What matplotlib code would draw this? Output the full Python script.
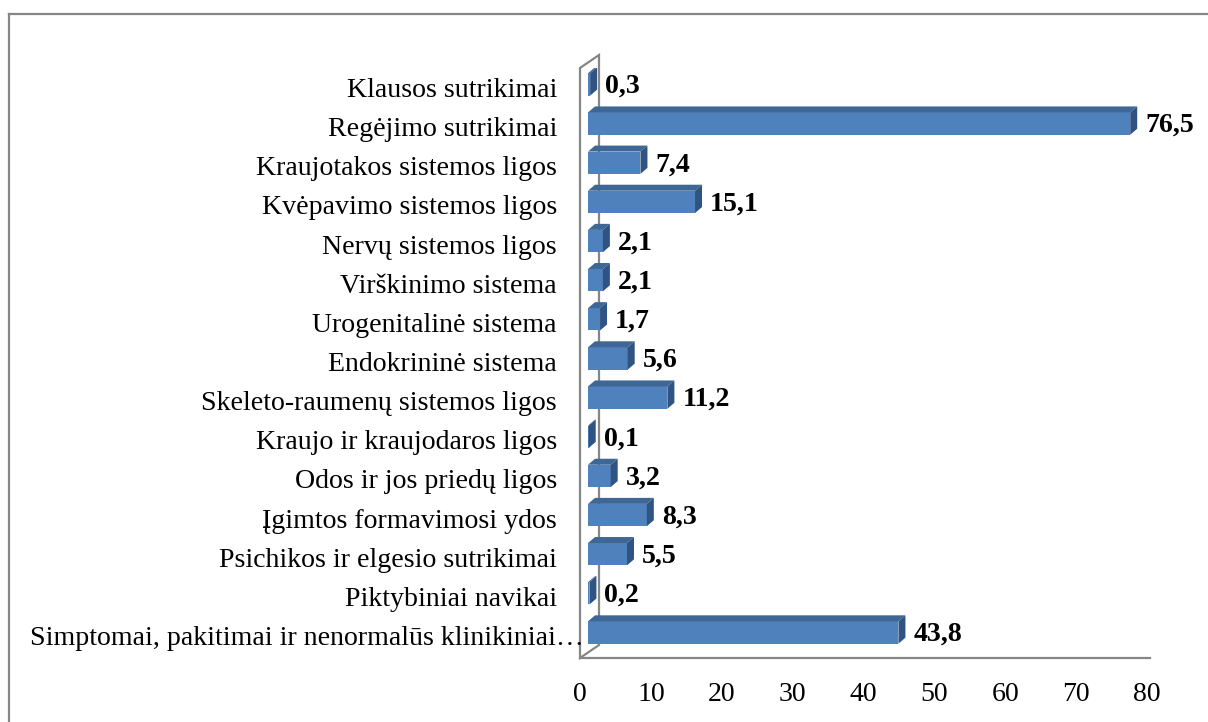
import matplotlib.pyplot as plt
from matplotlib.patches import Polygon
from matplotlib.lines import Line2D
from matplotlib.transforms import ScaledTranslation

plt.rcParams['font.family'] = ['Liberation Serif', 'DejaVu Serif']

# bottom -> top
categories = [
    "Simptomai, pakitimai ir nenormalūs klinikiniai…",
    "Piktybiniai navikai",
    "Psichikos ir elgesio sutrikimai",
    "Įgimtos formavimosi ydos",
    "Odos ir jos priedų ligos",
    "Kraujo ir kraujodaros ligos",
    "Skeleto-raumenų sistemos ligos",
    "Endokrininė sistema",
    "Urogenitalinė sistema",
    "Virškinimo sistema",
    "Nervų sistemos ligos",
    "Kvėpavimo sistemos ligos",
    "Kraujotakos sistemos ligos",
    "Regėjimo sutrikimai",
    "Klausos sutrikimai",
]
values = [43.8, 0.2, 5.5, 8.3, 3.2, 0.1, 11.2, 5.6, 1.7, 2.1, 2.1, 15.1, 7.4, 76.5, 0.3]
xticks = [0, 10, 20, 30, 40, 50, 60, 70, 80]

FRONT = "#4f81bd"
TOP = "#3f6795"
SIDE = "#2f5382"
GRID = "#868686"
FS = 20.1

W, H = 1208, 722
fig = plt.figure(figsize=(W / 100, H / 100), dpi=100)
ax = fig.add_axes([580 / W, (H - 658) / H, 570 / W, 590 / H])
ax.set_xlim(0, 80.42)
ax.set_ylim(-0.652, 14.42)

# pixels per data unit
ppx = 570 / 80.42
ppy = 590 / 15.072

def shift(dx, dy):
    return ax.transData + ScaledTranslation(dx / 100, dy / 100, fig.dpi_scale_trans)

bar_tr = shift(8, 0)
bh = 0.57
dx, dy = 7 / ppx, 6 / ppy

# side wall of the 3d plot
wx, wy = 19 / ppx, 13 / ppy
y0, y1 = ax.get_ylim()
wall = Polygon([(0, y0), (0, y1), (wx, y1 + wy), (wx, y0 + wy)], closed=True,
               facecolor="none", edgecolor=GRID, lw=1.6, clip_on=False, zorder=1)
ax.add_patch(wall)

pos = list(range(len(categories)))
ax.barh(pos, values, height=bh, color=FRONT, transform=bar_tr, zorder=3)

for y, v in zip(pos, values):
    t = y + bh / 2
    b = y - bh / 2
    ax.add_patch(Polygon([(0, t), (v, t), (v + dx, t + dy), (dx, t + dy)],
                         closed=True, facecolor=TOP, edgecolor="none",
                         transform=bar_tr, zorder=3))
    ax.add_patch(Polygon([(v, b), (v, t), (v + dx, t + dy), (v + dx, b + dy)],
                         closed=True, facecolor=SIDE, edgecolor="none",
                         transform=bar_tr, zorder=3))
    ax.text(v, y, f"{v:.1f}".replace(".", ","), transform=shift(8 + 15, -2),
            ha="left", va="center", fontsize=FS, fontweight="bold", zorder=4)

for y, name in zip(pos, categories):
    extra = 27 if name.endswith("…") else 0
    ax.text(0, y, name, transform=shift(-23 + extra, -6), ha="right",
            va="center", fontsize=FS, clip_on=False)

ax.set_yticks([])
ax.set_xticks(xticks)
ax.set_xticklabels([str(x) for x in xticks])
ax.tick_params(axis="x", length=0, pad=17, labelsize=FS)
for s in ["top", "right", "left"]:
    ax.spines[s].set_visible(False)
ax.spines["bottom"].set_color(GRID)
ax.spines["bottom"].set_linewidth(1.6)

# chart area border (cut off at right and bottom)
fig.add_artist(Line2D([9 / W, 9 / W], [0, 1 - 14 / H], transform=fig.transFigure,
                      color=GRID, lw=1.6))
fig.add_artist(Line2D([9 / W, 1], [1 - 14 / H, 1 - 14 / H], transform=fig.transFigure,
                      color=GRID, lw=1.6))

fig.savefig("out.png", dpi=100)
